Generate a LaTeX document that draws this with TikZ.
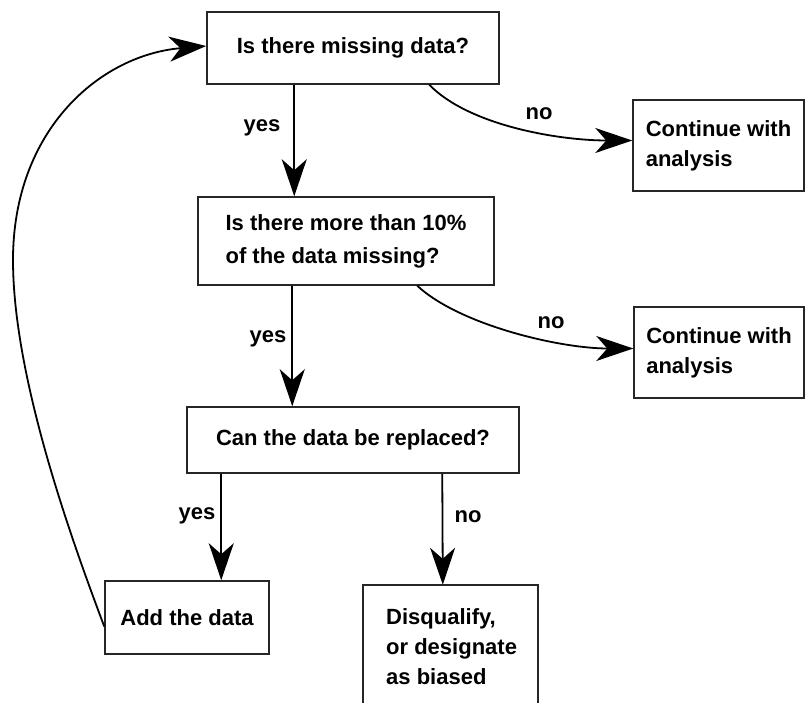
\documentclass[tikz,border=0pt]{standalone}
\usepackage{fontspec}
\setmainfont{Liberation Sans}
\usetikzlibrary{arrows.meta}
\begin{document}
\begin{tikzpicture}[x=1pt,y=-1pt,
  box/.style={draw=black!85, line width=1.5pt, inner sep=0pt, rectangle, align=left,
    font=\bfseries\fontsize{22}{30}\selectfont},
  openbox/.style={inner sep=0pt, rectangle, align=left,
    font=\bfseries\fontsize{22}{30}\selectfont},
  lbl/.style={font=\bfseries\fontsize{22}{25}\selectfont, anchor=base, inner sep=0pt},
  arr/.style={line width=1.8pt, -{Stealth[length=37pt,width=25pt,inset=11pt]}},
]
\useasboundingbox (0,0) rectangle (805,703);

\node[box, minimum width=292pt, minimum height=72pt] (q1) at (353,48) {Is there missing data?};
\node[box, minimum width=171pt, minimum height=91pt] (c1) at (718.5,145.5) {Continue with\\analysis};
\node[box, minimum width=296pt, minimum height=88pt, font=\bfseries\fontsize{22}{33}\selectfont] (q2) at (346,241) {Is there more than 10\%\\of the data missing?};
\node[box, minimum width=170pt, minimum height=91pt] (c2) at (719,352.5) {Continue with\\analysis};
\node[box, minimum width=332pt, minimum height=66pt] (q3) at (353,440) {Can the data be replaced?};
\node[box, minimum width=164pt, minimum height=73pt] (add) at (187,617.5) {Add the data};
\node[openbox, minimum width=175pt, minimum height=120pt] (dq) at (450.5,645) {};
\node[openbox, anchor=north west] (dqt) at (386,608) {Disqualify,\\or designate\\as biased};
\draw[draw=black!85, line width=1.5pt] (dq.south west) -- (dq.north west) -- (dq.north east) -- (dq.south east);

% vertical arrows
\draw[arr] ([xshift=88pt]q1.south west) -- ([xshift=97pt]q2.north west);
\draw[arr] ([xshift=95pt]q2.south west) -- ([xshift=106pt]q3.north west);
\draw[arr] ([xshift=35pt]q3.south west) -- ([xshift=117pt]add.north west);
\draw[arr] ([xshift=256pt]q3.south west) -- ([xshift=80pt]dq.north west);

% curved "no" arrows
\draw[arr] ([xshift=223pt]q1.south west) .. controls +(40,41) and +(-73,0) .. ([yshift=5pt]c1.west);
\draw[arr] ([xshift=220pt]q2.south west) .. controls +(42,39) and +(-74,0) .. ([yshift=4pt]c2.west);

% loop back
\coordinate (lm) at (13,260);
\draw[line width=1.8pt] ([yshift=-9pt]add.west) .. controls +(-30,-80) and (13,380) .. (lm);
\draw[arr] (lm) .. controls (13,130) and (100,55) .. ([yshift=2pt]q1.west);

% labels
\node[lbl] (y1) at (262,132) {yes};
\node[lbl] (n1) at (539,120) {no};
\node[lbl] (y2) at (268,342) {yes};
\node[lbl] (n2) at (551,328) {no};
\node[lbl] (y3) at (197,519) {yes};
\node[lbl] (n3) at (468,522) {no};
\end{tikzpicture}
\end{document}
